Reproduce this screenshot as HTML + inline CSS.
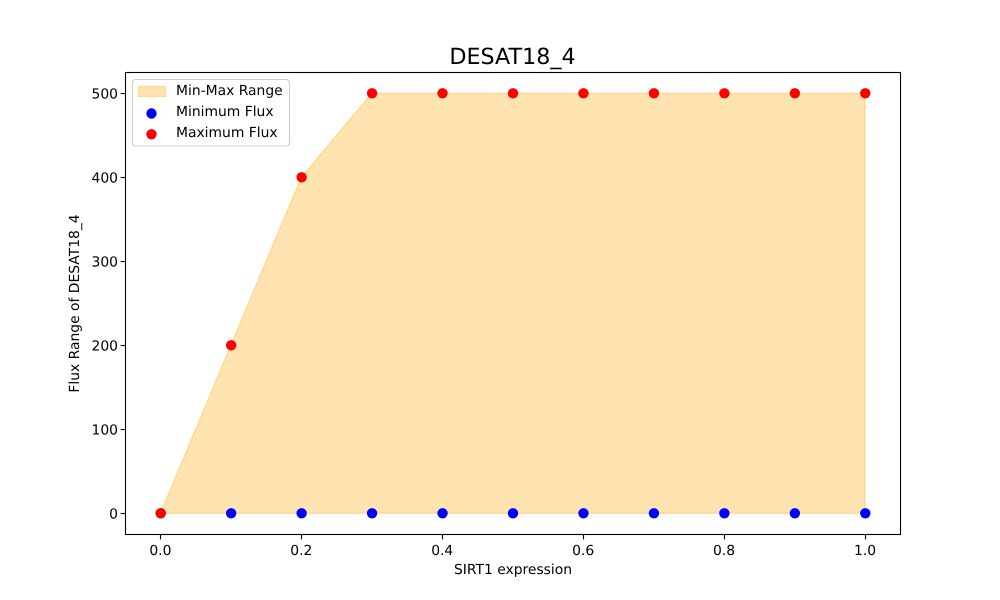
<!DOCTYPE html>
<html lang="en">
<head>
<meta charset="utf-8">
<title>DESAT18_4</title>
<style>
html,body{margin:0;padding:0;background:#fff;}
svg{display:block;}
text{font-family:"DejaVu Sans",sans-serif;font-size:13.89px;fill:#000;text-rendering:geometricPrecision;}
</style>
</head>
<body>
<svg id="chart" xmlns="http://www.w3.org/2000/svg" width="1000" height="600" viewBox="0 0 1000 600">
<rect width="1000" height="600" fill="#fff"/>
<text x="512.5" y="64" text-anchor="middle" style="font-size:22.22px">DESAT18_4</text>
<g id="range"></g>
<g id="axes"></g>
<rect x="125.5" y="72.5" width="775" height="462" fill="none" stroke="#000" stroke-width="1.1"/>
<text x="513" y="574" text-anchor="middle">SIRT1 expression</text>
<text transform="translate(79,303.5) rotate(-90)" text-anchor="middle">Flux Range of DESAT18_4</text>
<g>
<rect x="132.5" y="79.5" width="157" height="66.5" rx="3" fill="#fff" fill-opacity="0.8" stroke="#ccc" stroke-width="1.1"/>
<rect x="138.5" y="86.5" width="27" height="10" fill="orange" fill-opacity="0.3" stroke="orange" stroke-opacity="0.3" stroke-width="1.4"/>
<text x="176" y="95">Min-Max Range</text>
<circle cx="151.5" cy="113.5" r="5.2" fill="#00f"/>
<text x="176" y="116">Minimum Flux</text>
<circle cx="151.5" cy="134.3" r="5.2" fill="#f00"/>
<text x="176" y="137">Maximum Flux</text>
</g>
</svg>
<script>
const expression = [0, 0.1, 0.2, 0.3, 0.4, 0.5, 0.6, 0.7, 0.8, 0.9, 1.0];
const minFlux = [0, 0, 0, 0, 0, 0, 0, 0, 0, 0, 0];
const maxFlux = [0, 200, 400, 500, 500, 500, 500, 500, 500, 500, 500];
const xTickLabels = ["0.0", "0.2", "0.4", "0.6", "0.8", "1.0"];
const yTickLabels = ["0", "100", "200", "300", "400", "500"];

const NS = "http://www.w3.org/2000/svg";
const xScale = function (v) { return 160.4 + v * 704.6; };
const yScale = function (v) { return 513.3 - v * 0.84; };
const marks = document.getElementById("range");
const axes = document.getElementById("axes");

function make(tag, parent, attrs) {
  const el = document.createElementNS(NS, tag);
  Object.keys(attrs).forEach(function (k) { el.setAttribute(k, attrs[k]); });
  parent.appendChild(el);
  return el;
}

const upper = expression.map(function (x, i) { return xScale(x) + "," + yScale(maxFlux[i]); });
const lower = expression.map(function (x, i) { return xScale(x) + "," + yScale(minFlux[i]); }).reverse();
const area = make("polygon", marks, {
  points: upper.concat(lower).join(" "),
  fill: "orange", "fill-opacity": 0.3, stroke: "orange", "stroke-opacity": 0.3, "stroke-width": 1.4
});



expression.forEach(function (x, i) {
  const dot = make("circle", marks, { cx: xScale(x) + 0.3, cy: yScale(minFlux[i]), r: 5.2, fill: "#00f" });
  
  
});
expression.forEach(function (x, i) {
  const dot = make("circle", marks, { cx: xScale(x) + 0.3, cy: yScale(maxFlux[i]), r: 5.2, fill: "#f00" });
  
  
});

xTickLabels.forEach(function (label) {
  const px = Math.floor(xScale(parseFloat(label))) + 0.5;
  const tick = make("line", axes, { x1: px, x2: px, y1: 534.5, y2: 539.4, stroke: "#000", "stroke-width": 1.1 });
  
  
  const txt = make("text", axes, { x: xScale(parseFloat(label)), y: 555, "text-anchor": "middle" });
  txt.textContent = label;
  
  
});
yTickLabels.forEach(function (label) {
  const py = Math.round(yScale(parseFloat(label))) + 0.5;
  const tick = make("line", axes, { x1: 120.6, x2: 125.5, y1: py, y2: py, stroke: "#000", "stroke-width": 1.1 });
  
  
  const txt = make("text", axes, { x: 118, y: yScale(parseFloat(label)) + 5, "text-anchor": "end" });
  txt.textContent = label;
  
  
});
</script>
</body>
</html>
